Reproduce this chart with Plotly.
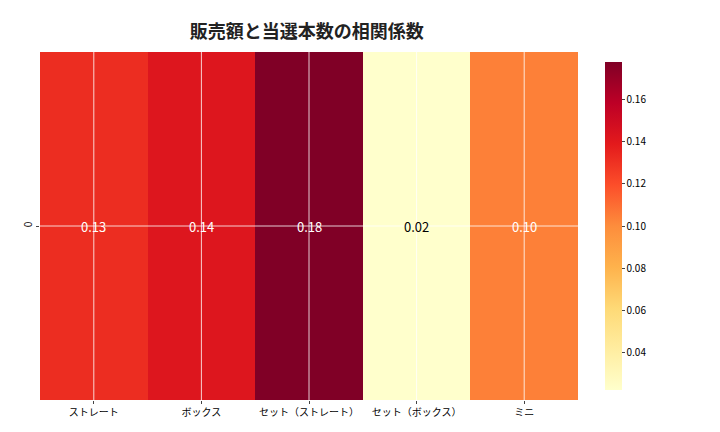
import plotly.graph_objects as go
import plotly.colors as pc

categories = ["ストレート", "ボックス", "セット（ストレート）", "セット（ボックス）", "ミニ"]
values = [0.132, 0.142, 0.178, 0.022, 0.104]
labels = ["0.13", "0.14", "0.18", "0.02", "0.10"]
text_colors = ["white", "white", "white", "black", "white"]
row_labels = ["0"]

font = "Noto Sans CJK JP"
scale = pc.sequential.YlOrRd

fig = go.Figure(go.Heatmap(
    z=[values], x=categories, y=row_labels, colorscale=scale,
    zmin=min(values), zmax=max(values), showscale=True,
    colorbar=dict(thickness=17, len=1, y=0.5, yanchor="middle", x=1.05, xpad=0,
                  tickvals=[0.04, 0.06, 0.08, 0.10, 0.12, 0.14, 0.16],
                  ticktext=["0.04", "0.06", "0.08", "0.10", "0.12", "0.14", "0.16"],
                  tickfont=dict(size=10, family=font, color="black"), outlinewidth=0, ticks="outside", ticklen=3),
    hoverinfo="skip"))

shapes = []
for c in categories:
    shapes.append(dict(type="line", xref="x", yref="paper", x0=c, x1=c, y0=0, y1=1,
                       line=dict(color="white", width=0.8)))
for r in row_labels:
    shapes.append(dict(type="line", xref="paper", yref="y", x0=0, x1=1, y0=r, y1=r,
                       line=dict(color="white", width=0.8)))

annotations = [dict(x=c, y=row_labels[0], text=t, showarrow=False,
                    font=dict(size=13, color=col, family=font))
               for c, t, col in zip(categories, labels, text_colors)]

fig.update_layout(
    width=720, height=432, plot_bgcolor="white", paper_bgcolor="white",
    margin=dict(l=24, r=150, t=44, b=40),
    title=dict(text="<b>販売額と当選本数の相関係数</b>", x=0.415, xanchor="center", y=0.96, yanchor="top",
               font=dict(size=18, family=font, color="#222")),
    xaxis=dict(showgrid=False, ticks="outside", ticklen=3, tickfont=dict(size=10, family=font, color="black")),
    yaxis=dict(showgrid=False, ticks="outside", ticklen=3, tickangle=-90,
               tickfont=dict(size=10, family=font, color="black")),
    shapes=shapes, annotations=annotations)

fig.write_html("out.html")
